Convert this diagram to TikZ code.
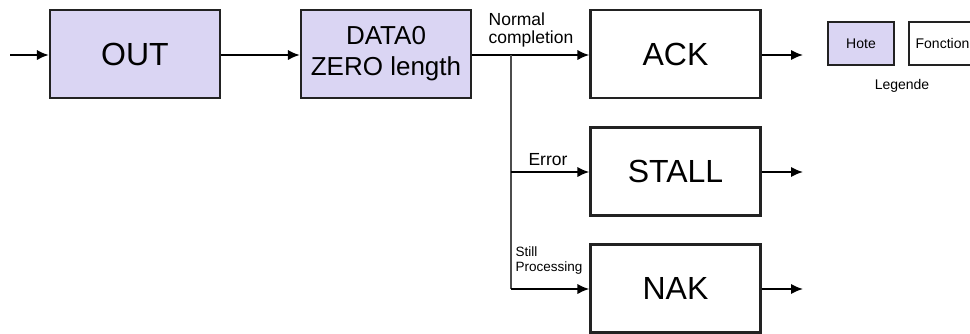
\documentclass[tikz,border=0pt]{standalone}
\usepackage{fontspec}
\setmainfont{Liberation Sans}
\usetikzlibrary{arrows.meta}
\definecolor{hostfill}{HTML}{DAD5F3}
\definecolor{edge}{HTML}{222222}
\tikzset{
  box/.style={draw=edge, line width=2.4pt, minimum width=170pt, minimum height=88pt,
    inner sep=0pt, font=\fontsize{32}{36}\selectfont, align=center},
  hostbox/.style={box, fill=hostfill},
  funcbox/.style={box, fill=white},
  keybox/.style={draw=edge, line width=2.2pt, minimum width=66pt, minimum height=43pt,
    inner sep=0pt, font=\fontsize{14}{16}\selectfont},
  flow/.style={draw=black, line width=2pt, -{Latex[length=12pt,width=10.5pt]}},
  branch/.style={draw=black!70, line width=1.3pt},
  lbl/.style={inner sep=0pt, align=left},
}
\begin{document}
\begin{tikzpicture}[x=1pt, y=-1pt]
  \useasboundingbox (0,0) rectangle (970,333);

  % main chain
  \coordinate (in) at (10,55);
  \node[hostbox] (out) at (135,54) {OUT};
  \node[hostbox, font=\fontsize{26}{31}\selectfont] (data) at (386,54) {DATA0\\ZERO length};
  \node[funcbox] (ack) at (675.5,54) {ACK};
  \node[funcbox] (stall) at (675.5,171.5) {STALL};
  \node[funcbox] (nak) at (675.5,288.5) {NAK};

  % branch point and its bend
  \coordinate (fork) at (511,55);
  \coordinate (forkend) at (511,289);
  \coordinate (forkmid) at (511,172);

  % outputs
  \coordinate (ackout) at (803,55);
  \coordinate (stallout) at (803,172);
  \coordinate (nakout) at (803,289);

  \draw[flow] (in) -- (out.west |- in);
  \draw[flow] (out.east |- in) -- (data.west |- in);
  \draw[flow] (data.east |- in) -- (ack.west |- in);
  \draw[branch] (fork) -- (forkend);
  \draw[flow] (forkmid) -- (stall.west |- forkmid);
  \draw[flow] (forkend) -- (nak.west |- forkend);
  \draw[flow] (ack.east |- ackout) -- (ackout);
  \draw[flow] (stall.east |- stallout) -- (stallout);
  \draw[flow] (nak.east |- nakout) -- (nakout);

  % branch labels
  \node[lbl, font=\fontsize{17.5}{18.5}\selectfont] (lnormal) at (531,30) {Normal\\completion};
  \node[lbl, font=\fontsize{17.5}{19}\selectfont] (lerror) at (548,159.5) {Error};
  \node[lbl, font=\fontsize{13.5}{15}\selectfont] (lstill) at (549,261) {Still\\Processing};

  % legend
  \node[keybox, fill=hostfill] (khost) at (861,43.5) {Hote};
  \node[keybox, fill=white, minimum width=67pt] (kfunc) at (942.5,43.5) {Fonction};
  \node[inner sep=0pt, font=\fontsize{14}{16}\selectfont] (klabel) at (902,86) {Legende};
\end{tikzpicture}
\end{document}
